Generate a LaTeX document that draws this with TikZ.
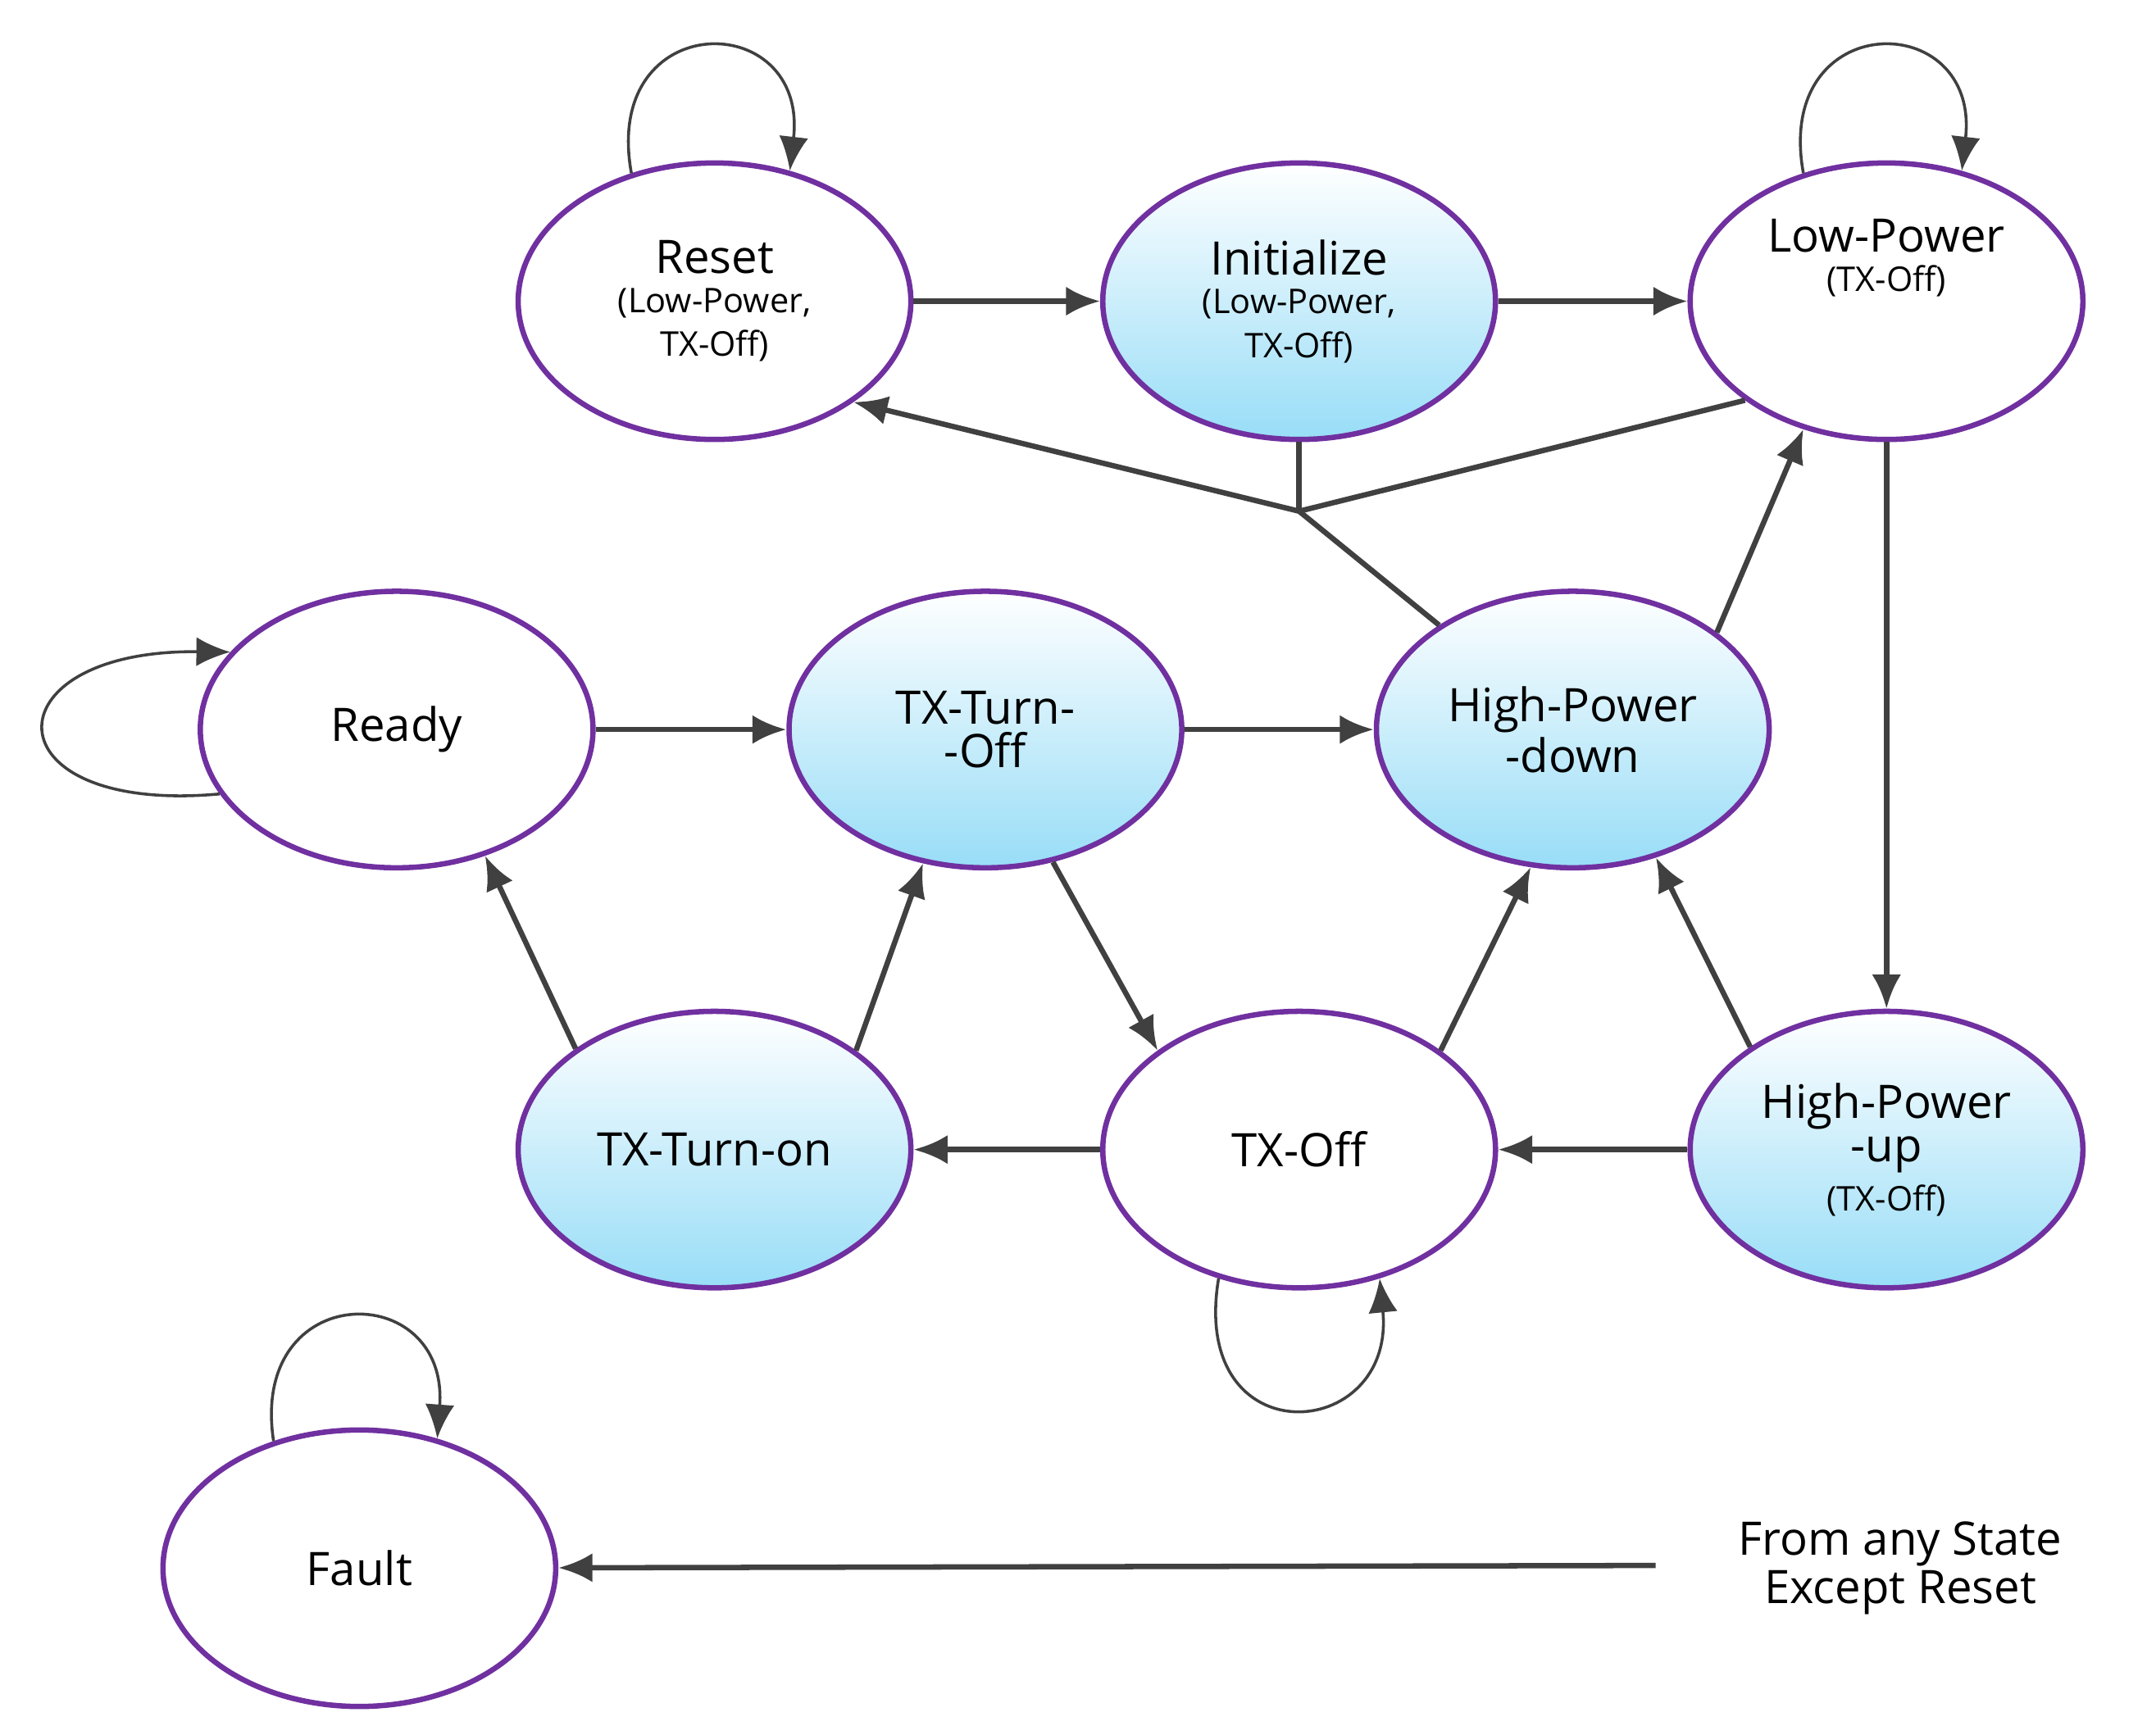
\documentclass[tikz,border=0pt]{standalone}
\usepackage{fontspec}
\setmainfont{Open Sans}
\usetikzlibrary{shapes.geometric,arrows.meta}
\definecolor{pur}{HTML}{7030A0}
\definecolor{cy}{HTML}{98DDF7}
\definecolor{ar}{HTML}{404040}
\newcommand{\smf}{\fontsize{7}{8.5}\selectfont}
\begin{document}
\begin{tikzpicture}[x=0.01cm,y=-0.01cm,
 st/.style={ellipse,draw=pur,line width=1.1pt,minimum width=2.84cm,minimum height=2cm,align=center,font=\fontsize{9.5}{9}\selectfont,inner sep=0pt},
 gr/.style={st,top color=white,bottom color=cy},
 e/.style={draw=ar,line width=1.1pt,-{Latex[length=7pt,width=6pt]}},
 l/.style={draw=ar,line width=1.1pt},
 lp/.style={draw=ar,line width=0.6pt,-{Latex[length=7pt,width=6pt]}}]
\useasboundingbox (0,0) rectangle (1560,1249);
\node[st] (reset) at (517,218) {Reset\\[-1pt]\smf (Low-Power,\\\smf TX-Off)};
\node[gr] (init) at (940,218) {Initialize\\[-1pt]\smf (Low-Power,\\\smf TX-Off)};
\node[st] (lp) at (1365,218) {Low-Power\\[-1pt]\smf (TX-Off)\\[10pt]};
\node[st] (ready) at (287,528) {Ready};
\node[gr] (tto) at (713,528) {TX-Turn-\\-Off};
\node[gr] (hpd) at (1138,528) {High-Power\\-down};
\node[gr] (ton) at (517,832) {TX-Turn-on};
\node[st] (off) at (940,832) {TX-Off};
\node[gr] (hpu) at (1365,832) {High-Power\\-up\\[1pt]\smf (TX-Off)};
\node[st] (fault) at (260,1135) {Fault};
\coordinate (J) at (940,370);
\coordinate (src) at (1198,1133);
\node[font=\fontsize{9.5}{9}\selectfont,align=center] (txt) at (1375,1135) {From any State\\Except Reset};
\draw[e] (reset) -- (init);
\draw[e] (init) -- (lp.west |- init);
\draw[l] (init) -- (J);
\draw[l] (lp.215) -- (J);
\draw[l] (hpd.142) -- (J);
\draw[e] (J) -- (reset.-36);
\draw[e] (hpd.34) -- (lp.-123);
\draw[e] (lp) -- (hpu);
\draw[e] (hpu.143) -- (hpd.-57);
\draw[e] (hpu) -- (off);
\draw[e] (off.35) -- (hpd.-107);
\draw[e] (off) -- (ton);
\draw[e] (tto.-63) -- (off.145);
\draw[e] (ton.35) -- (tto.-115);
\draw[e] (ton.144) -- (ready.-55);
\draw[e] (ready) -- (tto);
\draw[e] (tto) -- (hpd);
\draw[e] (src) -- (fault);
\draw[lp] (reset.123) .. controls (435,5) and (585,5) .. (reset.60);
\draw[lp] (lp.123) .. controls (1283,5) and (1433,5) .. (lp.60);
\draw[lp] (fault.124) .. controls (180,925) and (325,925) .. (fault.59);
\draw[lp] (off.-122) .. controls (860,1055) and (1010,1045) .. (off.-58);
\draw[lp] (ready.200) .. controls (-10,590) and (-10,470) .. (ready.155);
\end{tikzpicture}
\end{document}
